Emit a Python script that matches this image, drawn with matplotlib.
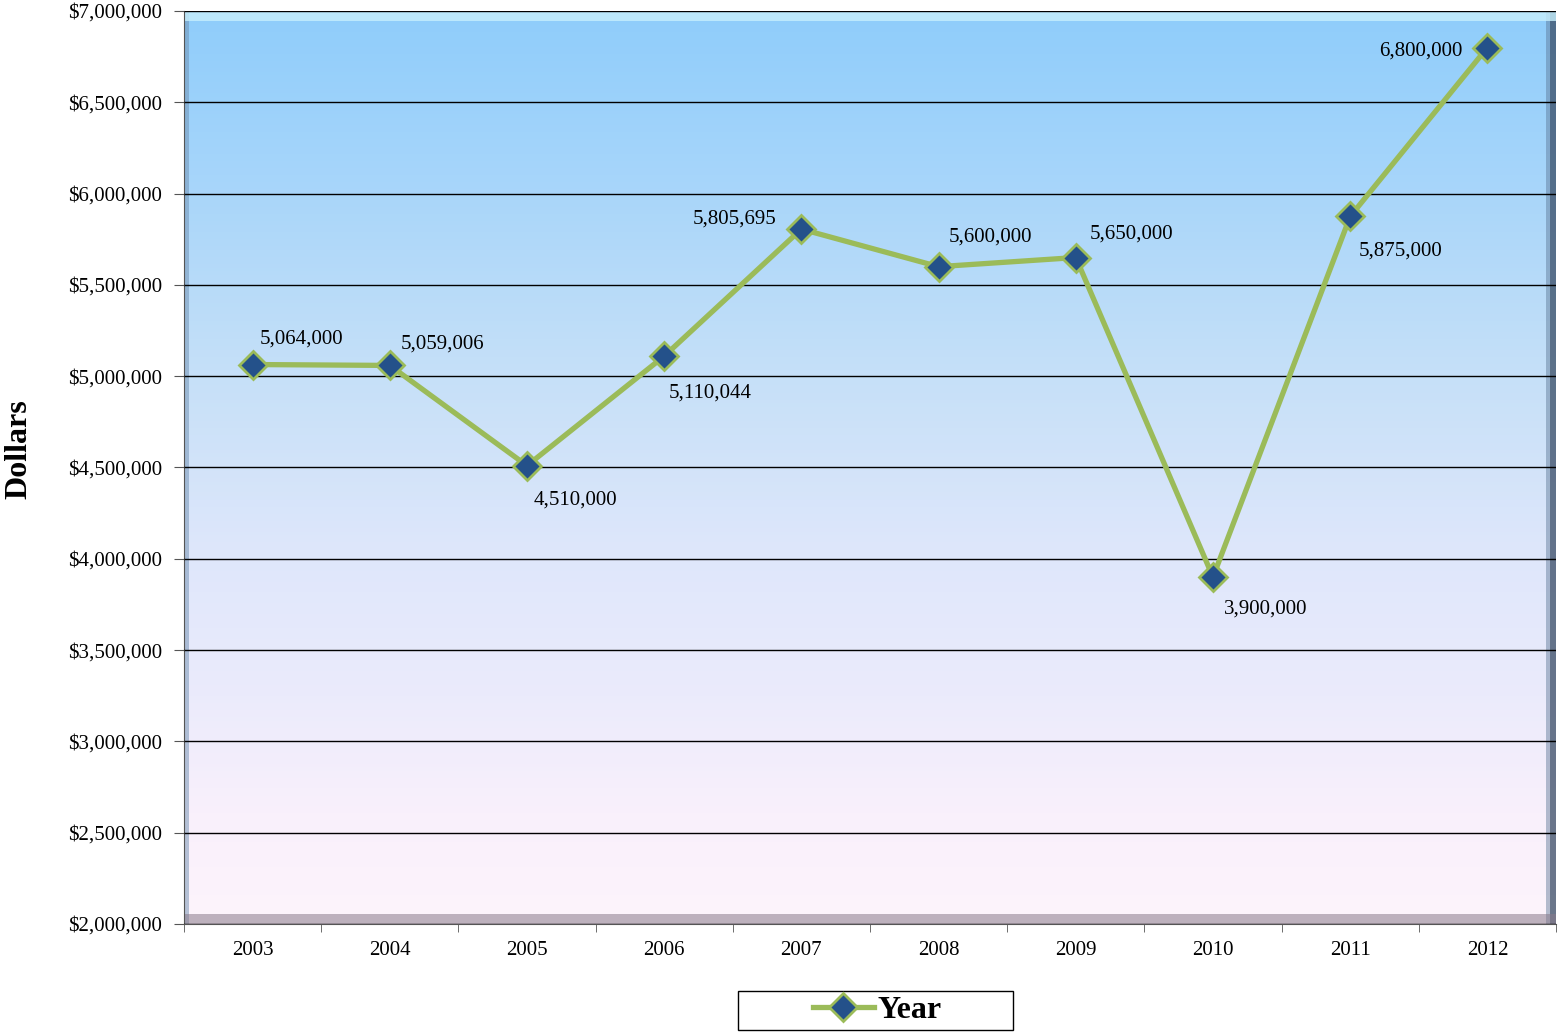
import numpy as np
import matplotlib.pyplot as plt
from matplotlib.colors import LinearSegmentedColormap
from matplotlib.patches import Rectangle
from matplotlib.ticker import FuncFormatter, MultipleLocator

plt.rcParams['font.family'] = ['Liberation Serif', 'DejaVu Serif']

# Data
years = ['2003', '2004', '2005', '2006', '2007', '2008', '2009', '2010', '2011', '2012']
dollars = [5064000, 5059006, 4510000, 5110044, 5805695, 5600000, 5650000, 3900000, 5875000, 6800000]
# label offsets (points) for each data label
label_offsets = [(5, 15), (8, 12), (5, -28), (3, -30), (-78, 4), (7, 18), (10, 14), (8, -26), (6, -28), (-78, -6)]

fig = plt.figure(figsize=(15.58, 10.32), dpi=100)
ax = fig.add_axes([0.1181, 0.1047, 0.8806, 0.8846])

x = np.arange(len(years))

# gradient background (top blue -> bottom pink)
cmap = LinearSegmentedColormap.from_list('bg', [(0, '#8fcdfb'), (0.2, '#a9d6fa'), (0.4, '#c6e0f8'),
                                                (0.6, '#dfe7fb'), (0.75, '#ebebfc'), (0.88, '#f9f0fb'),
                                                (1, '#fdf4fb')])
grad = np.linspace(0, 1, 256).reshape(-1, 1)
ax.imshow(grad, cmap=cmap, aspect='auto', extent=[0, 1, 0, 1],
          transform=ax.transAxes, zorder=0)

# bevel edges
ax.add_patch(Rectangle((0, 0), 0.004, 1, transform=ax.transAxes, color='#6f8fb0', alpha=0.5, zorder=1, lw=0))
ax.add_patch(Rectangle((0.993, 0), 0.007, 1, transform=ax.transAxes, color='#5a7594', alpha=0.45, zorder=1, lw=0))
ax.add_patch(Rectangle((0.996, 0), 0.004, 1, transform=ax.transAxes, color='#2e3e55', alpha=0.55, zorder=1, lw=0))
ax.add_patch(Rectangle((0, 0), 1, 0.011, transform=ax.transAxes, color='#8a7a8a', alpha=0.55, zorder=1, lw=0))
ax.add_patch(Rectangle((0, 0.989), 1, 0.011, transform=ax.transAxes, color='#c8f0fd', alpha=0.8, zorder=1, lw=0))

ax.set_xlim(-0.5, len(years) - 0.5)
ax.set_ylim(2000000, 7000000)

ax.yaxis.set_major_locator(MultipleLocator(500000))
ax.yaxis.set_major_formatter(FuncFormatter(lambda v, p: '${:,.0f}'.format(v)))
ax.grid(axis='y', color='black', linewidth=1, zorder=2)
ax.set_axisbelow(False)

ax.set_xticks(x)
ax.set_xticklabels(years)
ax.set_xticks(np.arange(-0.5, len(years)), minor=True)
ax.tick_params(axis='x', which='major', length=0, pad=12, labelsize=15)
ax.tick_params(axis='x', which='minor', length=6, color='#555555')
ax.tick_params(axis='y', length=7, color='#555555', labelsize=15, pad=9)

for s in ['top', 'right']:
    ax.spines[s].set_visible(False)
ax.spines['left'].set_color('#555555')
ax.spines['bottom'].set_color('#555555')

line, = ax.plot(x, dollars, color='#9bbb59', linewidth=3.8, marker='D', markersize=14,
                markerfacecolor='#24518a', markeredgecolor='#9bbb59', markeredgewidth=2,
                zorder=5, label='Year')

for xi, v, off in zip(x, dollars, label_offsets):
    ax.annotate('{:,}'.format(v), (xi, v), xytext=off, textcoords='offset points',
                fontsize=15, color='black', zorder=6)

ax.set_ylabel('Dollars', fontsize=23, fontweight='bold')
ax.yaxis.set_label_coords(-0.11, 0.52)

# legend with wide box
leg = fig.legend(handles=[line], loc='center', bbox_to_anchor=(0.563, 0.0213),
                 frameon=False, prop={'size': 23, 'weight': 'bold'},
                 handlelength=1.9, handletextpad=0.1)
fig.patches.append(Rectangle((738 / 1558, 2 / 1032), 275 / 1558, 39 / 1032,
                             transform=fig.transFigure, fill=False,
                             edgecolor='black', linewidth=1))

fig.savefig('out.png', dpi=100)
